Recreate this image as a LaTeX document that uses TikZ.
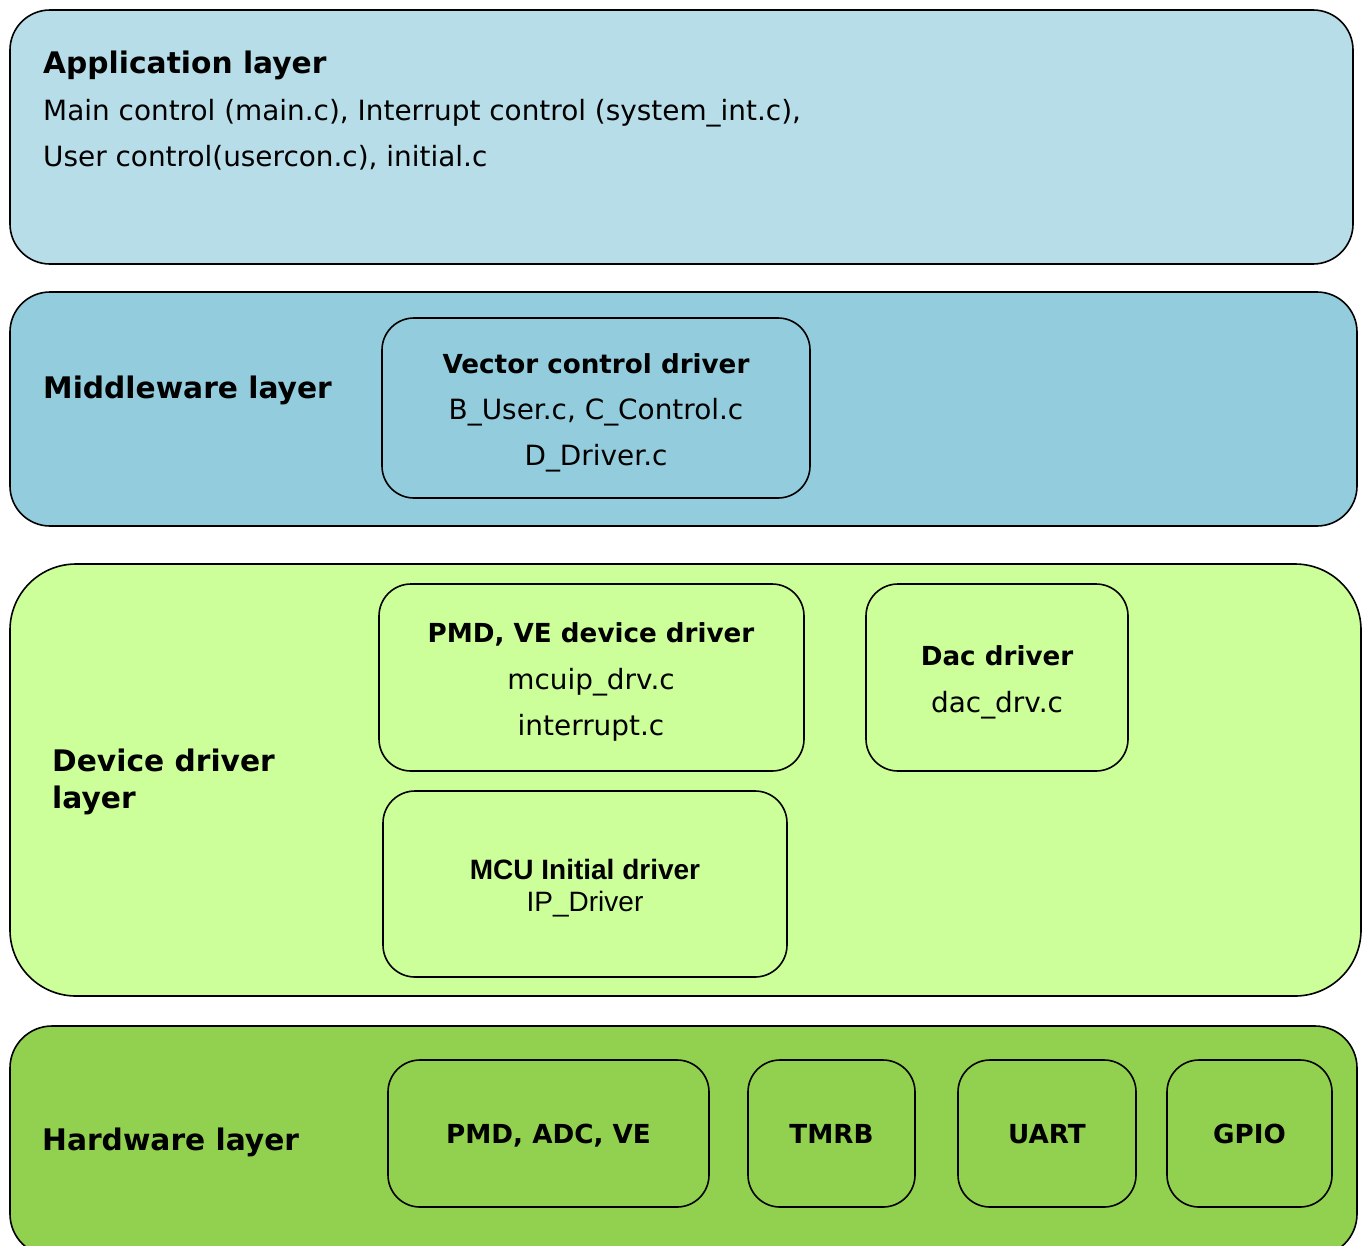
\documentclass[tikz,border=0pt]{standalone}
\usepackage{fontspec}
\setmainfont{DejaVu Sans}
\newfontfamily\arialf{Liberation Sans}
\definecolor{appc}{HTML}{B7DDE8}
\definecolor{midc}{HTML}{93CDDD}
\definecolor{devc}{HTML}{CCFF99}
\definecolor{hwc}{HTML}{92D050}
\begin{document}
\begin{tikzpicture}[x=1pt,y=-1pt,
  layer/.style={draw=black, line width=1.6pt, anchor=north west, inner sep=0pt, outer sep=0pt},
  box/.style={draw=black, line width=1.6pt, rounded corners=32pt, anchor=north west, inner sep=0pt, outer sep=0pt},
  ttl/.style={font=\fontsize{29.7}{34}\bfseries\selectfont, anchor=base west, inner sep=0pt},
  txt/.style={font=\fontsize{27.9}{32}\selectfont, anchor=base west, inner sep=0pt},
  btl/.style={font=\fontsize{26.2}{30}\bfseries\selectfont, anchor=base, inner sep=0pt},
  btx/.style={font=\fontsize{27.9}{32}\selectfont, anchor=base, inner sep=0pt}]
\useasboundingbox (0,0) rectangle (1365,1245);
\clip (0,0) rectangle (1365,1245);
% layers
\node[layer, fill=appc, rounded corners=40pt, minimum width=1343pt, minimum height=254pt] (app) at (10,10) {};
\node[layer, fill=midc, rounded corners=40pt, minimum width=1347pt, minimum height=234pt] (mid) at (10,292) {};
\node[layer, fill=devc, rounded corners=66pt, minimum width=1351pt, minimum height=432pt] (dev) at (10,564) {};
\node[layer, fill=hwc, rounded corners=42pt, minimum width=1347pt, minimum height=230pt] (hw) at (10,1026) {};
% application text
\node[ttl] (appT) at (43,73) {Application layer};
\node[txt] (appL1) at (43,120) {Main control (main.c), Interrupt control (system\_int.c),};
\node[txt] (appL2) at (43,166) {User control(usercon.c), initial.c};
% middleware
\node[ttl] (midT) at (43,398) {Middleware layer};
\node[box, fill=midc, minimum width=428pt, minimum height=180pt] (vcd) at (382,318) {};
\node[btl] (vcdT) at (596,373) {Vector control driver};
\node[btx] (vcdL1) at (596,419) {B\_User.c, C\_Control.c};
\node[btx] (vcdL2) at (596,465) {D\_Driver.c};
% device driver
\node[ttl] (devT) at (52,771) {Device driver};
\node[ttl] (devT2) at (52,808) {layer};
\node[box, fill=devc, minimum width=425pt, minimum height=187pt] (pmd) at (379,584) {};
\node[btl] (pmdT) at (591,642) {PMD, VE device driver};
\node[btx] (pmdL1) at (591,689) {mcuip\_drv.c};
\node[btx] (pmdL2) at (591,735) {interrupt.c};
\node[box, fill=devc, minimum width=262pt, minimum height=187pt] (dac) at (866,584) {};
\node[btl] (dacT) at (997,665) {Dac driver};
\node[btx] (dacL1) at (997,712) {dac\_drv.c};
\node[box, fill=devc, minimum width=404pt, minimum height=186pt] (mcu) at (383,791) {};
\node[font=\fontsize{28}{32}\arialf\bfseries\selectfont, anchor=base, inner sep=0pt] (mcuT) at (585,879) {MCU Initial driver};
\node[font=\fontsize{28}{32}\arialf\selectfont, anchor=base, inner sep=0pt] (mcuL1) at (585,911) {IP\_Driver};
% hardware
\node[ttl] (hwT) at (42,1150) {Hardware layer};
\node[box, fill=hwc, minimum width=321pt, minimum height=147pt] (h1) at (388,1060) {};
\node[box, fill=hwc, minimum width=167pt, minimum height=147pt] (h2) at (748,1060) {};
\node[box, fill=hwc, minimum width=178pt, minimum height=147pt] (h3) at (958,1060) {};
\node[box, fill=hwc, minimum width=165pt, minimum height=147pt] (h4) at (1167,1060) {};
\node[btl, yshift=-10pt] (h1T) at (h1.center) {PMD, ADC, VE};
\node[btl, yshift=-10pt] (h2T) at (h2.center) {TMRB};
\node[btl, yshift=-10pt] (h3T) at (h3.center) {UART};
\node[btl, yshift=-10pt] (h4T) at (h4.center) {GPIO};
\end{tikzpicture}
\end{document}
